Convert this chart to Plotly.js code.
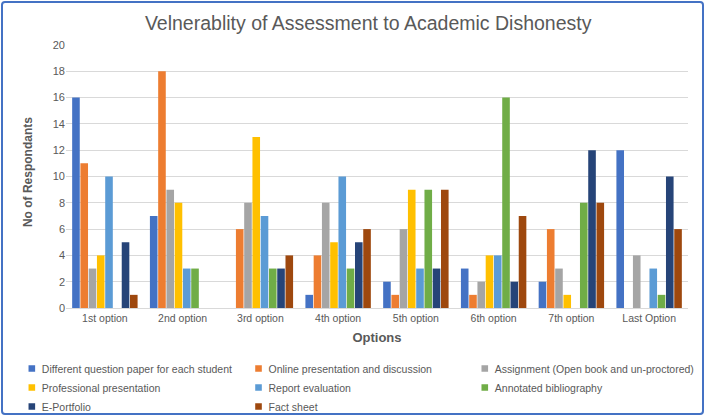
<!DOCTYPE html>
<html><head><meta charset="utf-8">
<script src="https://cdn.plot.ly/plotly-3.0.1.min.js"></script>
<style>
html,body{margin:0;padding:0;background:#fff;}
#wrap{position:relative;width:704px;height:415px;}
#chart{width:704px;height:415px;}
#border{position:absolute;left:1px;top:1px;width:699px;height:410px;border:2px solid #4472C4;border-radius:4px;pointer-events:none;}
</style></head>
<body>
<div id="wrap"><div id="chart"></div><div id="border"></div></div>
<script>
const categories = ["1st option","2nd option","3rd option","4th option","5th option","6th option","7th option","Last Option"];
const seriesNames = ["Different question paper for each student","Online presentation and discussion","Assignment (Open book and un-proctored)","Professional presentation","Report evaluation","Annotated bibliography","E-Portfolio","Fact sheet"];
const differentPaper = [16,7,0,1,2,3,2,12];
const onlinePresentation = [11,18,6,4,1,1,6,0];
const assignment = [3,9,8,8,6,2,3,4];
const professionalPresentation = [4,8,13,5,9,4,1,0];
const reportEvaluation = [10,3,7,10,3,4,0,3];
const annotatedBibliography = [0,3,3,3,9,16,8,1];
const ePortfolio = [5,0,3,5,3,2,12,10];
const factSheet = [1,0,4,6,9,7,8,6];
const seriesValues = [differentPaper,onlinePresentation,assignment,professionalPresentation,reportEvaluation,annotatedBibliography,ePortfolio,factSheet];
const colors = ["#4472C4","#ED7D31","#A5A5A5","#FFC000","#5B9BD5","#70AD47","#264478","#9E480E"];
const yTicks = [0,2,4,6,8,10,12,14,16,18,20];
const yTitle = "No of Respondants";

const FONT = "Liberation Sans, Arial, sans-serif";
const legendIds = ['legend','legend2','legend3'];
const traces = seriesValues.map((vals,i)=>({
  type:'bar', name:seriesNames[i], x:categories, y:vals,
  marker:{color:colors[i]}, hoverinfo:'y', legend:legendIds[i%3]
}));
function legendAt(x){
  return {orientation:'v',xref:'container',yref:'container',x:x,xanchor:'left',y:0.147,yanchor:'top',
    traceorder:'normal',font:{size:10.5,color:'#595959'},itemwidth:30,tracegroupgap:0,bgcolor:'rgba(0,0,0,0)'};
}
const layout = {
  width:704, height:415,
  margin:{l:66,r:16,t:45,b:107,autoexpand:false},
  paper_bgcolor:'#fff', plot_bgcolor:'#fff',
  font:{family:FONT,color:'#595959',size:11},
  title:{text:'Velnerablity of Assessment to Academic Dishonesty',font:{family:FONT,size:19.5,color:'#595959'},x:0.523,xanchor:'center',y:0.945,yanchor:'middle'},
  barmode:'group', bargap:0.15, bargroupgap:0.08,
  xaxis:{type:'category',tickfont:{size:10.5,color:'#595959'},showline:true,linecolor:'#D9D9D9',ticks:'',
    title:{text:'<b>Options</b>',font:{size:13,color:'#595959'},standoff:10}},
  yaxis:{range:[0,20],tickvals:yTicks,ticktext:yTicks.map(String),gridcolor:'#D9D9D9',zeroline:false,
    tickfont:{size:11,color:'#595959'},showline:false,ticks:''},
  annotations:[{text:'<b>'+yTitle+'</b>',xref:'paper',yref:'paper',x:-0.061,y:0.517,textangle:-90,
    showarrow:false,xanchor:'center',yanchor:'middle',font:{size:12,color:'#595959',family:FONT}}],
  legend:legendAt(0.0026),
  legend2:legendAt(0.3246),
  legend3:legendAt(0.646),
  showlegend:true
};
Plotly.newPlot('chart',traces,layout,{displayModeBar:false,staticPlot:true}).then(gd=>{
  gd.querySelectorAll('.legendpoints path').forEach(p=>{
    p.setAttribute('transform','translate(30,0) scale(0.55)');
  });
});
</script>
</body></html>
